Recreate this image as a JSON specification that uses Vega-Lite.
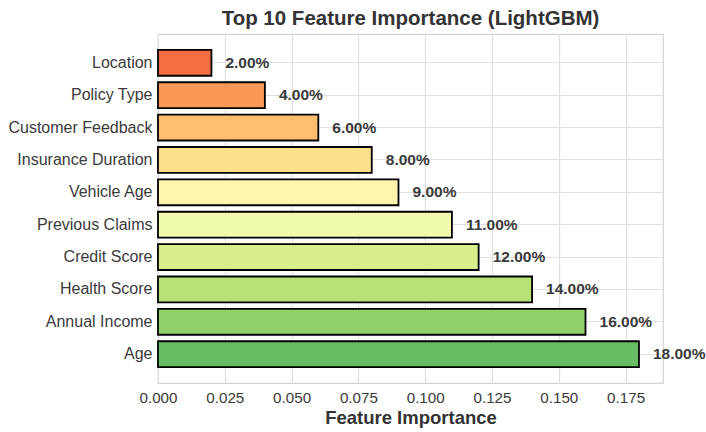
{
  "$schema": "https://vega.github.io/schema/vega-lite/v6.json",
  "autosize": {"type": "none"},
  "width": 505,
  "height": 349,
  "padding": {"left": 158, "top": 34, "right": 43, "bottom": 49},
  "background": "white",
  "title": {
    "text": "Top 10 Feature Importance (LightGBM)",
    "fontSize": 20.5,
    "fontWeight": "bold",
    "font": "Liberation Sans",
    "color": "#333333",
    "anchor": "middle",
    "frame": "group",
    "offset": 5
  },
  "config": {
    "view": {"stroke": "#d4d4d4", "strokeWidth": 1.2},
    "font": "Liberation Sans"
  },
  "data": {
    "values": [
      {"feature": "Location", "importance": 0.02, "label": "2.00%"},
      {"feature": "Policy Type", "importance": 0.04, "label": "4.00%"},
      {"feature": "Customer Feedback", "importance": 0.06, "label": "6.00%"},
      {"feature": "Insurance Duration", "importance": 0.08, "label": "8.00%"},
      {"feature": "Vehicle Age", "importance": 0.09, "label": "9.00%"},
      {"feature": "Previous Claims", "importance": 0.11, "label": "11.00%"},
      {"feature": "Credit Score", "importance": 0.12, "label": "12.00%"},
      {"feature": "Health Score", "importance": 0.14, "label": "14.00%"},
      {"feature": "Annual Income", "importance": 0.16, "label": "16.00%"},
      {"feature": "Age", "importance": 0.18, "label": "18.00%"}
    ]
  },
  "encoding": {
    "y": {
      "field": "feature",
      "type": "nominal",
      "sort": ["Location", "Policy Type", "Customer Feedback", "Insurance Duration", "Vehicle Age", "Previous Claims", "Credit Score", "Health Score", "Annual Income", "Age"],
      "scale": {"paddingInner": 0.2, "paddingOuter": 0.49},
      "axis": {
        "title": null,
        "domain": false,
        "ticks": false,
        "labelPadding": 6,
        "labelFontSize": 16,
        "labelColor": "#3a3a3a",
        "labelFont": "Liberation Sans",
        "grid": true,
        "gridColor": "#e0e0e0",
        "gridWidth": 1.2,
        "bandPosition": 0.5
      }
    },
    "x": {
      "field": "importance",
      "type": "quantitative",
      "scale": {"domain": [0, 0.189], "nice": false, "zero": true},
      "axis": {
        "values": [0, 0.025, 0.05, 0.075, 0.1, 0.125, 0.15, 0.175],
        "format": ".3f",
        "title": "Feature Importance",
        "titleFontSize": 18.5,
        "titleFontWeight": "bold",
        "titleColor": "#333333",
        "titleFont": "Liberation Sans",
        "titlePadding": 3,
        "domain": false,
        "ticks": false,
        "labelFlush": false,
        "labelOverlap": false,
        "labelPadding": 7,
        "labelFontSize": 15.2,
        "labelColor": "#3a3a3a",
        "labelFont": "Liberation Sans",
        "grid": true,
        "gridColor": "#e0e0e0",
        "gridWidth": 1.2
      }
    }
  },
  "layer": [
    {
      "mark": {"type": "bar", "stroke": "#000000", "strokeWidth": 1.8, "opacity": 1},
      "encoding": {
        "color": {
          "field": "feature",
          "type": "nominal",
          "legend": null,
          "scale": {
            "domain": ["Location", "Policy Type", "Customer Feedback", "Insurance Duration", "Vehicle Age", "Previous Claims", "Credit Score", "Health Score", "Annual Income", "Age"],
            "range": ["#f46d43", "#fa9857", "#fdbf6f", "#fee08b", "#fff5ae", "#f2faae", "#d9ef8b", "#b7e075", "#91d068", "#66bd63"]
          }
        }
      }
    },
    {
      "mark": {"type": "text", "align": "left", "baseline": "middle", "dx": 14, "fontSize": 15.5, "fontWeight": "bold", "color": "#3a3a3a", "font": "Liberation Sans"},
      "encoding": {"text": {"field": "label"}}
    }
  ]
}
